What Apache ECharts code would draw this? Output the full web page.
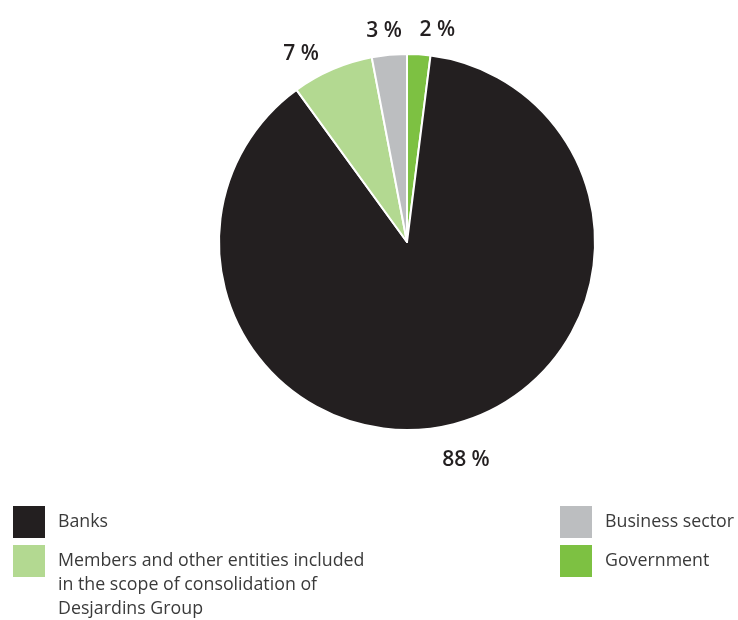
<!DOCTYPE html>
<html>
<head>
<meta charset="utf-8">
<script src="https://cdn.jsdelivr.net/npm/echarts@6/dist/echarts.min.js"></script>
<style>
  html, body { margin: 0; padding: 0; background: #fff; }
  #main { width: 738px; height: 620px; }
</style>
</head>
<body>
<div id="main"></div>
<script>
// slices in clockwise order starting at 12 o'clock
var categories = ['Government', 'Banks', 'Members and other entities included in the scope of consolidation of Desjardins Group', 'Business sector'];
var shares = [2, 88, 7, 3];
var colors = ['#7dc142', '#231f20', '#b3d991', '#bcbec0'];

// label line tweaks per slice (label placement only)
var labelLen = [24, 37, 24, 24];
var labelLen2 = [17, 3, 8, 3];

var pieData = categories.map(function (name, i) {
  return {
    name: name,
    value: shares[i],
    itemStyle: { color: colors[i] },
    labelLine: { length: labelLen[i], length2: labelLen2[i] }
  };
});

var legendText = {
  fontFamily: 'Open Sans',
  fontSize: 17.8,
  color: '#3a3a3a',
  lineHeight: 24,
  padding: [0, 0, 0, 7]
};

function legendBox(left, top, names, gap, formatter) {
  var l = {
    orient: 'vertical',
    left: left,
    top: top,
    padding: 0,
    itemWidth: 34,
    itemHeight: 34,
    itemGap: gap,
    icon: 'rect',
    textStyle: legendText,
    data: names
  };
  if (formatter) l.formatter = formatter;
  return l;
}

var chart = echarts.init(document.getElementById('main'));
chart.setOption({
  backgroundColor: '#fff',
  animation: false,
  legend: [
    legendBox(11, 504, [categories[1]], 6),
    // two empty lines on top keep the first line level with the swatch
    legendBox(11, 501, [categories[2]], 6, function () {
      return '\n\nMembers and other entities included\nin the scope of consolidation of\nDesjardins Group';
    }),
    legendBox(558, 504, [categories[3], categories[0]], 3)
  ],
  series: [{
    type: 'pie',
    center: [407, 242],
    radius: 188,
    startAngle: 90,
    clockwise: true,
    silent: true,
    itemStyle: { borderColor: '#fff', borderWidth: 2 },
    label: {
      show: true,
      position: 'outside',
      formatter: '{c} %',
      fontFamily: 'Open Sans',
      fontSize: 21,
      fontWeight: 600,
      color: '#231f20',
      distanceToLabelLine: 0
    },
    labelLine: { show: false },
    labelLayout: function () {
      return { align: 'center' };
    },
    data: pieData
  }]
});
</script>
</body>
</html>
